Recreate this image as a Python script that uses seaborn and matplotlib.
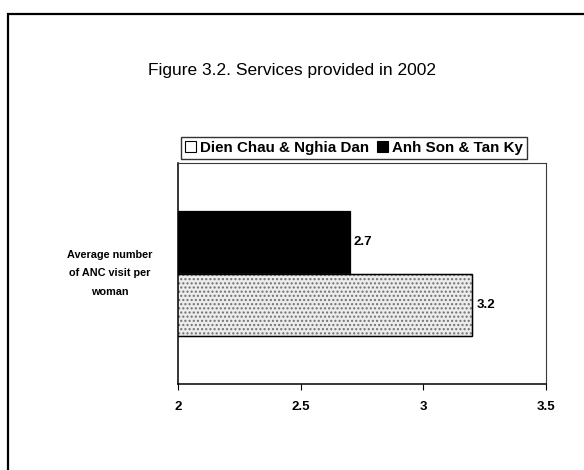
import pandas as pd
import numpy as np
import matplotlib
matplotlib.use("Agg")
import matplotlib.pyplot as plt
import matplotlib.patches as mpatches
import seaborn as sns

# data
category = ["Average number\nof ANC visit per\nwoman"]
groups = ["Anh Son & Tan Ky", "Dien Chau & Nghia Dan"]
values = [2.7, 3.2]
legend_order = ["Dien Chau & Nghia Dan", "Anh Son & Tan Ky"]
x_ticks = [2, 2.5, 3, 3.5]
title = "Figure 3.2. Services provided in 2002"

sns.set_theme(style="white")
plt.rcParams['font.family'] = ['Liberation Sans', 'DejaVu Sans']
plt.rcParams['text.color'] = 'black'
plt.rcParams['xtick.color'] = 'black'
plt.rcParams['ytick.color'] = 'black'

df = pd.DataFrame({"category": category * len(groups), "group": groups, "value": values})

fig = plt.figure(figsize=(5.84, 4.70), dpi=100)
ax = fig.add_axes([178/584, 1 - 384/470, (546 - 178)/584, (384 - 163)/470])

sns.barplot(data=df, y="category", x="value", hue="group", hue_order=groups,
            orient="h", ax=ax, width=0.565, legend=False,
            palette={"Anh Son & Tan Ky": "black", "Dien Chau & Nghia Dan": "#ececec"},
            edgecolor="black", linewidth=0.9, saturation=1)

# stipple the light bar
for bar in ax.containers[1]:
    bar.set_hatch("....")
    bar.set_edgecolor("#707070")
    x0, y0 = bar.get_xy()
    ax.add_patch(mpatches.Rectangle((x0, y0), bar.get_width(), bar.get_height(),
                                    fill=False, edgecolor="black", linewidth=1.0))

for cont in ax.containers:
    ax.bar_label(cont, fmt="%.1f", padding=3, fontsize=9.5, fontweight="bold")

ax.set_xlim(2, 3.5)
ax.set_xticks(x_ticks)
ax.set_xticklabels([f"{t:g}" for t in x_ticks], fontsize=9.5, fontweight="bold")
ax.tick_params(axis="x", direction="out", length=4, width=0.8, color="black", pad=8, bottom=True)
ax.tick_params(axis="y", length=0, pad=49)
for lab in ax.get_yticklabels():
    lab.set_ha("center")
    lab.set_fontsize(7.8)
    lab.set_fontweight("bold")
    lab.set_multialignment("center")
    lab.set_linespacing(2.05)
    lab.set_va("center")
ax.set_xlabel("")
ax.set_ylabel("")

for side in ["left", "bottom"]:
    ax.spines[side].set_color("black")
    ax.spines[side].set_linewidth(1.1)
for side in ["top", "right"]:
    ax.spines[side].set_color("#3a3a3a")
    ax.spines[side].set_linewidth(0.8)
    ax.spines[side].set_linestyle((0, (6, 1)))

handles = [mpatches.Patch(facecolor="white", edgecolor="black", linewidth=0.8),
           mpatches.Patch(facecolor="black", edgecolor="black", linewidth=0.8)]
leg = fig.legend(handles, legend_order, loc="center", ncol=2,
                 bbox_to_anchor=(354/584, 1 - 148/470), frameon=True, fancybox=False,
                 handlelength=0.7, handleheight=0.7, handletextpad=0.3, columnspacing=0.5,
                 borderpad=0.25, prop={"weight": "bold", "size": 10.9})
leg.get_frame().set_edgecolor("black")
leg.get_frame().set_linewidth(1.0)

fig.text(0.5, 1 - 70/470, title, ha="center", va="center", fontsize=12.5)

# outer frame
fig.add_artist(mpatches.Rectangle((8/584, -0.1), 1.2, 1 - 14/470 + 0.1, transform=fig.transFigure,
                                  fill=False, edgecolor="black", linewidth=1.6))

fig.savefig("out.png", dpi=100)
